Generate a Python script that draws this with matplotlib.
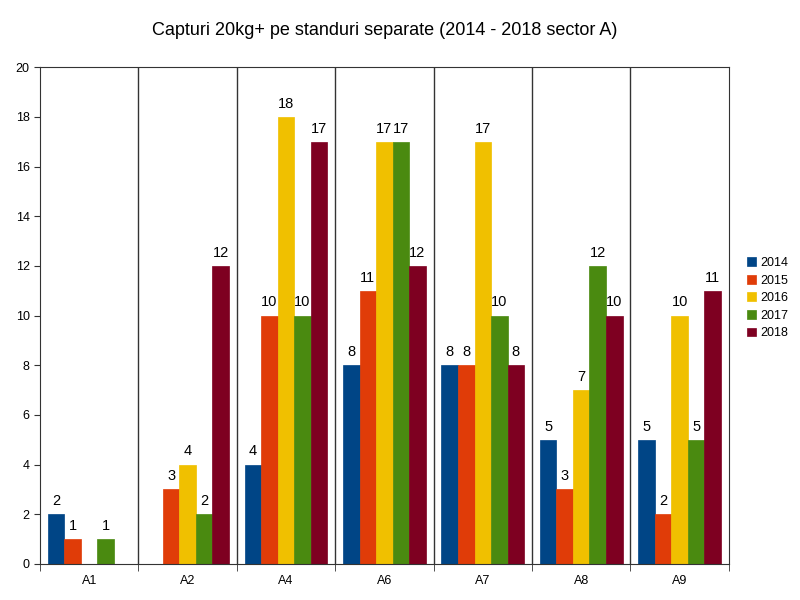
import matplotlib.pyplot as plt
import numpy as np

plt.rcParams['font.family'] = ['Liberation Sans', 'DejaVu Sans']

categories = ['A1', 'A2', 'A4', 'A6', 'A7', 'A8', 'A9']
years = ['2014', '2015', '2016', '2017', '2018']
values = {
    '2014': [2, 0, 4, 8, 8, 5, 5],
    '2015': [1, 3, 10, 11, 8, 3, 2],
    '2016': [0, 4, 18, 17, 17, 7, 10],
    '2017': [1, 2, 10, 17, 10, 12, 5],
    '2018': [0, 12, 17, 12, 8, 10, 11],
}
colors = ['#004586', '#e03c08', '#f0c000', '#4a8a10', '#7e0021']

fig = plt.figure(figsize=(8, 6), dpi=100)
ax = fig.add_axes([0.05, 0.06, 0.861, 0.828])

x = np.arange(len(categories))
w = 0.168
for i, yr in enumerate(years):
    pos = x + (i - 2) * w
    vals = values[yr]
    ax.bar(pos, vals, w, color=colors[i], label=yr, edgecolor=colors[i], linewidth=0.5)
    for p, v in zip(pos, vals):
        if v > 0:
            ax.text(p, v + 0.25, str(v), ha='center', va='bottom', fontsize=10.5)

for k in range(len(categories) - 1):
    ax.axvline(k + 0.5, color='#333333', linewidth=1)

ax.set_xlim(-0.5, len(categories) - 0.5)
ax.set_ylim(0, 20)
ax.set_yticks(range(0, 21, 2))
ax.set_xticks(x)
ax.set_xticklabels(categories)
ax.set_xticks(np.arange(-0.5, len(categories), 1), minor=True)
ax.tick_params(axis='x', which='major', length=0, pad=8, labelsize=9)
ax.tick_params(axis='x', which='minor', length=5, direction='out', color='#333333')
ax.tick_params(axis='y', length=4, direction='out', labelsize=9, color='#333333')
for s in ax.spines.values():
    s.set_color('#333333')

ax.set_title('Capturi 20kg+ pe standuri separate (2014 - 2018 sector A)', fontsize=13, pad=23)
ax.legend(loc='center left', bbox_to_anchor=(1.01, 0.535), frameon=False, fontsize=9,
          handlelength=0.7, handleheight=0.7, handletextpad=0.4, labelspacing=0.45)

fig.savefig('out.png', dpi=100)
